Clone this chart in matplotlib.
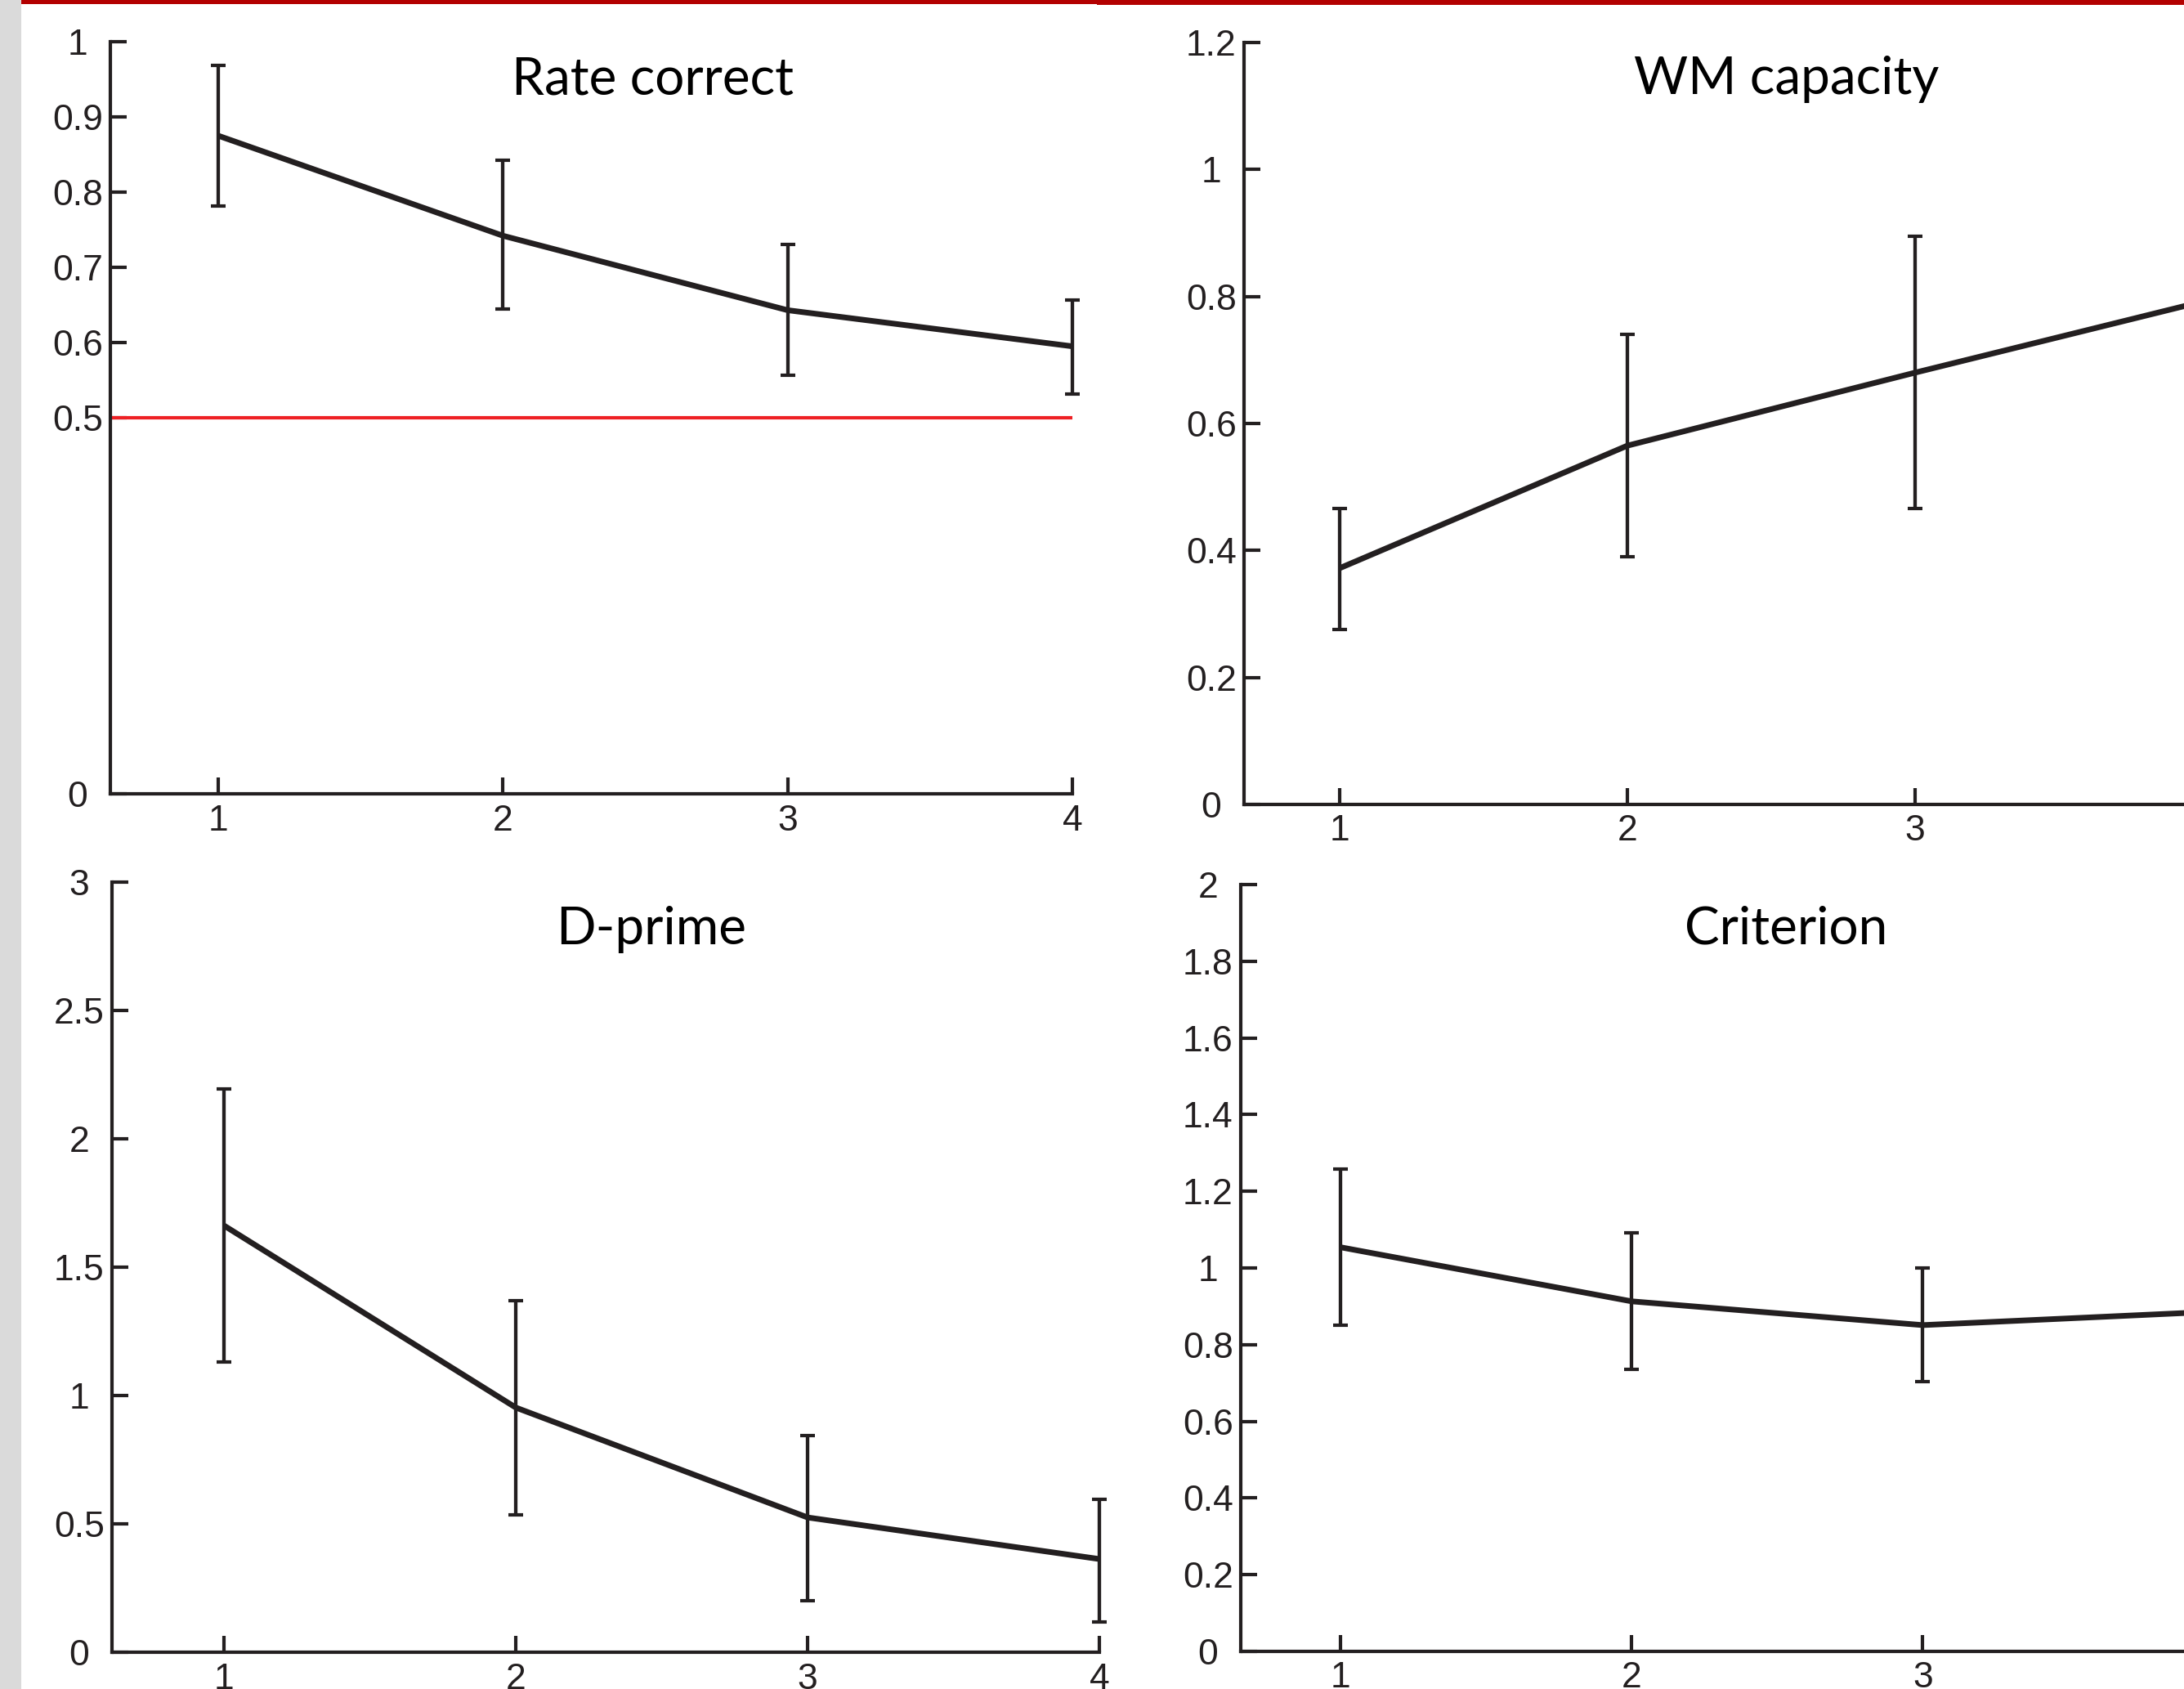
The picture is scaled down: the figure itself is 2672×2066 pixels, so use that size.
import matplotlib
matplotlib.use("Agg")
import matplotlib.pyplot as plt
import matplotlib.transforms as mtransforms
from matplotlib.patches import Rectangle

# data (set size 1..4)
set_size = [1, 2, 3, 4]

rate_mean = [0.875, 0.742, 0.643, 0.595]
rate_lo = [0.782, 0.645, 0.556, 0.532]
rate_hi = [0.968, 0.842, 0.730, 0.656]
chance = 0.5

wm_mean = [0.372, 0.565, 0.680, 0.792]
wm_lo = [0.276, 0.390, 0.466, 0.600]
wm_hi = [0.466, 0.740, 0.895, 1.000]

dprime_mean = [1.662, 0.953, 0.525, 0.363]
dprime_lo = [1.132, 0.536, 0.200, 0.119]
dprime_hi = [2.193, 1.370, 0.845, 0.596]

crit_mean = [1.054, 0.913, 0.851, 0.886]
crit_lo = [0.851, 0.736, 0.703, 0.740]
crit_hi = [1.257, 1.091, 1.000, 1.040]

rate_ticks = [0, 0.5, 0.6, 0.7, 0.8, 0.9, 1]
wm_ticks = [0, 0.2, 0.4, 0.6, 0.8, 1, 1.2]
dprime_ticks = [0, 0.5, 1, 1.5, 2, 2.5, 3]
crit_ticks = [0, 0.2, 0.4, 0.6, 0.8, 1, 1.2, 1.4, 1.6, 1.8, 2]

INK = "#231f20"
W, H = 2672, 2066

fig = plt.figure(figsize=(W / 100, H / 100), dpi=100)
fig.patch.set_facecolor("white")

# page decorations: grey margin on the left, red rule on top
fig.patches.append(Rectangle((0, 0), 26 / W, 1, transform=fig.transFigure,
                             facecolor="#dadada", edgecolor="none", zorder=0))
fig.patches.append(Rectangle((26 / W, 1 - 5 / H), (1342 - 26) / W, 5 / H,
                             transform=fig.transFigure, facecolor="#b30000",
                             edgecolor="none", zorder=0))
fig.patches.append(Rectangle((1342 / W, 1 - 6 / H), 1, 6 / H,
                             transform=fig.transFigure, facecolor="#b30000",
                             edgecolor="none", zorder=0))


def panel(x0, x1, ytop, ybot, xlim, ylim, yticks, mean, lo, hi,
          title, title_x, title_y):
    ax = fig.add_axes([x0 / W, 1 - ybot / H, (x1 - x0) / W, (ybot - ytop) / H])
    ax.set_facecolor("none")
    err = [[m - l for m, l in zip(mean, lo)], [h - m for m, h in zip(mean, hi)]]
    eb = ax.errorbar(set_size, mean, yerr=err, color=INK, lw=5, elinewidth=3.1,
                     capsize=6.5, capthick=3, solid_capstyle="butt", zorder=3)
    for art in eb.get_children():
        art.set_clip_on(False)
    ax.set_xlim(*xlim)
    ax.set_ylim(*ylim)
    ax.set_xticks(set_size)
    ax.set_xticklabels([str(v) for v in set_size])
    ax.set_yticks(yticks)
    ax.set_yticklabels([f"{v:g}" for v in yticks])
    for s in ("top", "right"):
        ax.spines[s].set_visible(False)
    for s in ("left", "bottom"):
        ax.spines[s].set_linewidth(3)
        ax.spines[s].set_color(INK)
        ax.spines[s].set_capstyle("projecting")
    ax.tick_params(axis="both", direction="in", length=14.5, width=3,
                   colors=INK, labelsize=32)
    ax.tick_params(axis="y", pad=29)
    ax.tick_params(axis="x", pad=9)
    for lab in ax.get_yticklabels() + ax.get_xticklabels():
        lab.set_fontfamily(["Liberation Sans", "DejaVu Sans"])
    for lab in ax.get_yticklabels():
        lab.set_ha("center")
    trans = mtransforms.blended_transform_factory(ax.transData, ax.transAxes)
    ax.text(title_x, title_y, title, transform=trans, ha="center", va="baseline",
            fontsize=46, family=["Lato", "DejaVu Sans"], color="black")
    return ax


ax1 = panel(135, 1312, 51, 971, (0.621, 4), (0, 1), rate_ticks,
            rate_mean, rate_lo, rate_hi, "Rate correct", 2.527, 0.930)
ax1.hlines(chance, 0.621, 4, color="#ee2024", lw=3, zorder=2)

ax2 = panel(1522, 2730, 52, 984, (0.668, 4.1), (0, 1.2), wm_ticks,
            wm_mean, wm_lo, wm_hi, "WM capacity", 2.554, 0.932)

ax3 = panel(137, 1345, 1079, 2021, (0.616, 4), (0, 3), dprime_ticks,
            dprime_mean, dprime_lo, dprime_hi, "D-prime", 2.465, 0.919)

ax4 = panel(1518, 2744, 1082, 2020, (0.657, 4.1), (0, 2), crit_ticks,
            crit_mean, crit_lo, crit_hi, "Criterion", 2.531, 0.923)

fig.savefig("out.png", dpi=100)
